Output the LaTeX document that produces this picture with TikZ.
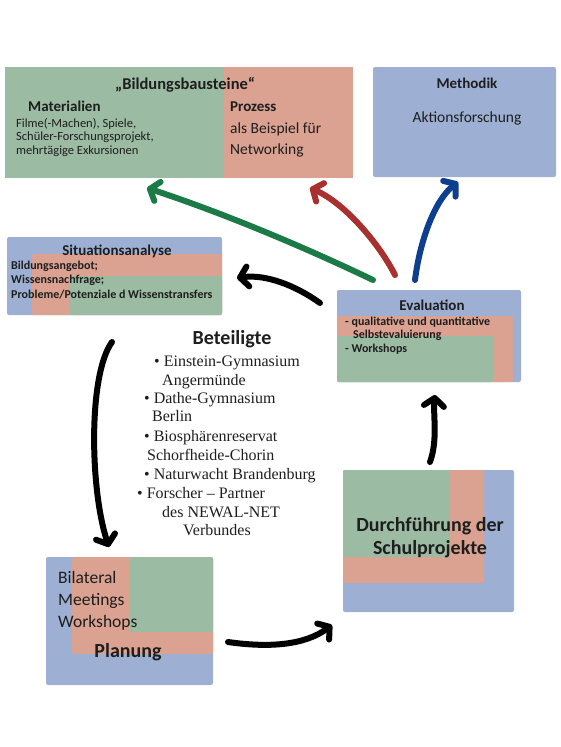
\documentclass[tikz,border=0pt]{standalone}
\usepackage{fontspec}
\setmainfont{Carlito}
\newfontfamily\serifB{Liberation Serif}
\usetikzlibrary{arrows.meta}
\definecolor{bgreen}{HTML}{9CBBA3}
\definecolor{bred}{HTML}{DBA291}
\definecolor{bblue}{HTML}{9DB0D3}
\definecolor{agreen}{HTML}{1B7A45}
\definecolor{ared}{HTML}{A8302E}
\definecolor{ablue}{HTML}{0E3F8E}
\definecolor{txt}{HTML}{1E1E1E}
\newcommand\myfs[2]{\fontsize{#1}{#2}\selectfont}
\begin{document}
\begin{tikzpicture}[x=1pt,y=-1pt,
  layer/.style={inner sep=0pt, outer sep=0pt, anchor=north west, rounded corners=2pt},
  lbl/.style={inner sep=0pt, text=txt, align=left},
  flow/.style={line width=6pt, line cap=round,
    -{Straight Barb[length=8pt,width=20pt,line cap=round,line join=round]}},
]
\useasboundingbox (0,0) rectangle (560,747);

% Bildungsbausteine
\node[layer, fill=bgreen, minimum width=219pt, minimum height=111pt, rounded corners=0pt] (bbG) at (5,67) {};
\node[layer, fill=bred, minimum width=129pt, minimum height=111pt, rounded corners=0pt] (bbR) at (224,67) {};
% Methodik
\node[layer, fill=bblue, minimum width=183pt, minimum height=110pt] (meth) at (373,67) {};
% Situationsanalyse
\node[layer, fill=bblue, minimum width=215pt, minimum height=78pt] (sit) at (7,237) {};
\node[layer, fill=bred, minimum width=190pt, minimum height=61pt] (sitR) at (32,254) {};
\node[layer, fill=bgreen, minimum width=153pt, minimum height=39pt] (sitG) at (69,276) {};
% Evaluation
\node[layer, fill=bblue, minimum width=184pt, minimum height=92pt] (eval) at (337,290) {};
\node[layer, fill=bred, minimum width=176pt, minimum height=66pt] (evalR) at (337,316) {};
\node[layer, fill=bgreen, minimum width=156pt, minimum height=46pt] (evalG) at (337,336) {};
% Planung
\node[layer, fill=bblue, minimum width=167pt, minimum height=128pt] (plan) at (46,557) {};
\node[layer, fill=bred, minimum width=141pt, minimum height=97pt] (planR) at (72,557) {};
\node[layer, fill=bgreen, minimum width=83pt, minimum height=75pt] (planG) at (130,557) {};
% Durchfuehrung
\node[layer, fill=bblue, minimum width=171pt, minimum height=142pt] (durch) at (343,470) {};
\node[layer, fill=bred, minimum width=141pt, minimum height=113pt] (durchR) at (343,470) {};
\node[layer, fill=bgreen, minimum width=107pt, minimum height=87pt] (durchG) at (343,470) {};

% Texts
\node[lbl, anchor=base, font=\myfs{16.5}{19}\bfseries] (bbT) at (185,89) {„Bildungsbausteine“};
\node[lbl, anchor=base west, font=\myfs{15}{18}\bfseries] (matT) at (28,111) {Materialien};
\node[lbl, anchor=base west, font=\myfs{12.5}{13.5}] (matL) at (16,154) {Filme(-Machen), Spiele,\\Schüler-Forschungsprojekt,\\mehrtägige Exkursionen};
\node[lbl, anchor=base west, font=\myfs{15}{18}\bfseries] (proT) at (230,111) {Prozess};
\node[lbl, anchor=base west, font=\myfs{15.5}{21}] (proL) at (230,154) {als Beispiel für\\Networking};
\node[lbl, anchor=base, font=\myfs{15}{18}\bfseries] (methT) at (467,88) {Methodik};
\node[lbl, anchor=base, font=\myfs{15.5}{18}] (methL) at (467,122) {Aktionsforschung};
\node[lbl, anchor=base, font=\myfs{15}{18}\bfseries] (sitT) at (117,255) {Situationsanalyse};
\node[lbl, anchor=base west, font=\myfs{12}{14.5}\bfseries] (sitL) at (11,298) {Bildungsangebot;\\Wissensnachfrage;\\Probleme/Potenziale d Wissenstransfers};
\node[lbl, anchor=base, font=\myfs{15}{18}\bfseries] (evalT) at (432,310) {Evaluation};
\node[lbl, anchor=base west, font=\myfs{12}{13.5}\bfseries] (evalL) at (345,352) {- qualitative und quantitative\\\hspace*{8pt}Selbstevaluierung\\- Workshops};
\node[lbl, anchor=base, font=\myfs{20}{24}\bfseries] (betT) at (232,344) {Beteiligte};
\begin{scope}[every node/.style={lbl, anchor=base west, font=\serifB\myfs{16}{19}}]
\node (b1) at (154,366) {• Einstein-Gymnasium};
\node (b1b) at (162,385) {Angermünde};
\node (b2) at (144,403) {• Dathe-Gymnasium};
\node (b2b) at (152,421) {Berlin};
\node (b3) at (144,441) {• Biosphärenreservat};
\node (b3b) at (147,460) {Schorfheide-Chorin};
\node (b4) at (144,479) {• Naturwacht Brandenburg};
\node (b5) at (137,498) {• Forscher – Partner};
\node (b5b) at (162,517) {des NEWAL-NET};
\node (b5c) at (183,535) {Verbundes};
\end{scope}
\node[lbl, anchor=base west, font=\myfs{17.5}{22}] (planL) at (58,627) {Bilateral\\Meetings\\Workshops};
\node[lbl, anchor=base, font=\myfs{20}{24}\bfseries] (planT) at (128,657) {Planung};
\node[lbl, anchor=base, align=center, font=\myfs{20}{23}\bfseries] (durchT) at (430,554) {Durchführung der\\Schulprojekte};

% Connector end points
\coordinate (gS) at (373,280); \coordinate (gE) at (147,188);
\coordinate (rS) at (395,275); \coordinate (rE) at (310,188);
\coordinate (uS) at (415,280); \coordinate (uE) at (458,182);
\coordinate (k1S) at (320,303); \coordinate (k1E) at (237,278);
\coordinate (k2S) at (112,342); \coordinate (k2E) at (109,547);
\coordinate (k3S) at (228,642); \coordinate (k3E) at (332,625);
\coordinate (k4S) at (430,462); \coordinate (k4E) at (435,395);

\draw[flow, agreen] (gS) .. controls (300,245) and (220,212) .. (gE);
\draw[flow, ared] (rS) .. controls (380,245) and (345,203) .. (rE);
\draw[flow, ablue] (uS) .. controls (420,240) and (435,200) .. (uE);
\draw[flow, black] (k1S) .. controls (295,285) and (265,274) .. (k1E);
\draw[flow, black] (k2S) .. controls (88,375) and (90,490) .. (k2E);
\draw[flow, black] (k3S) .. controls (270,648) and (305,645) .. (k3E);
\draw[flow, black] (k4S) .. controls (438,440) and (433,415) .. (k4E);
\end{tikzpicture}
\end{document}
